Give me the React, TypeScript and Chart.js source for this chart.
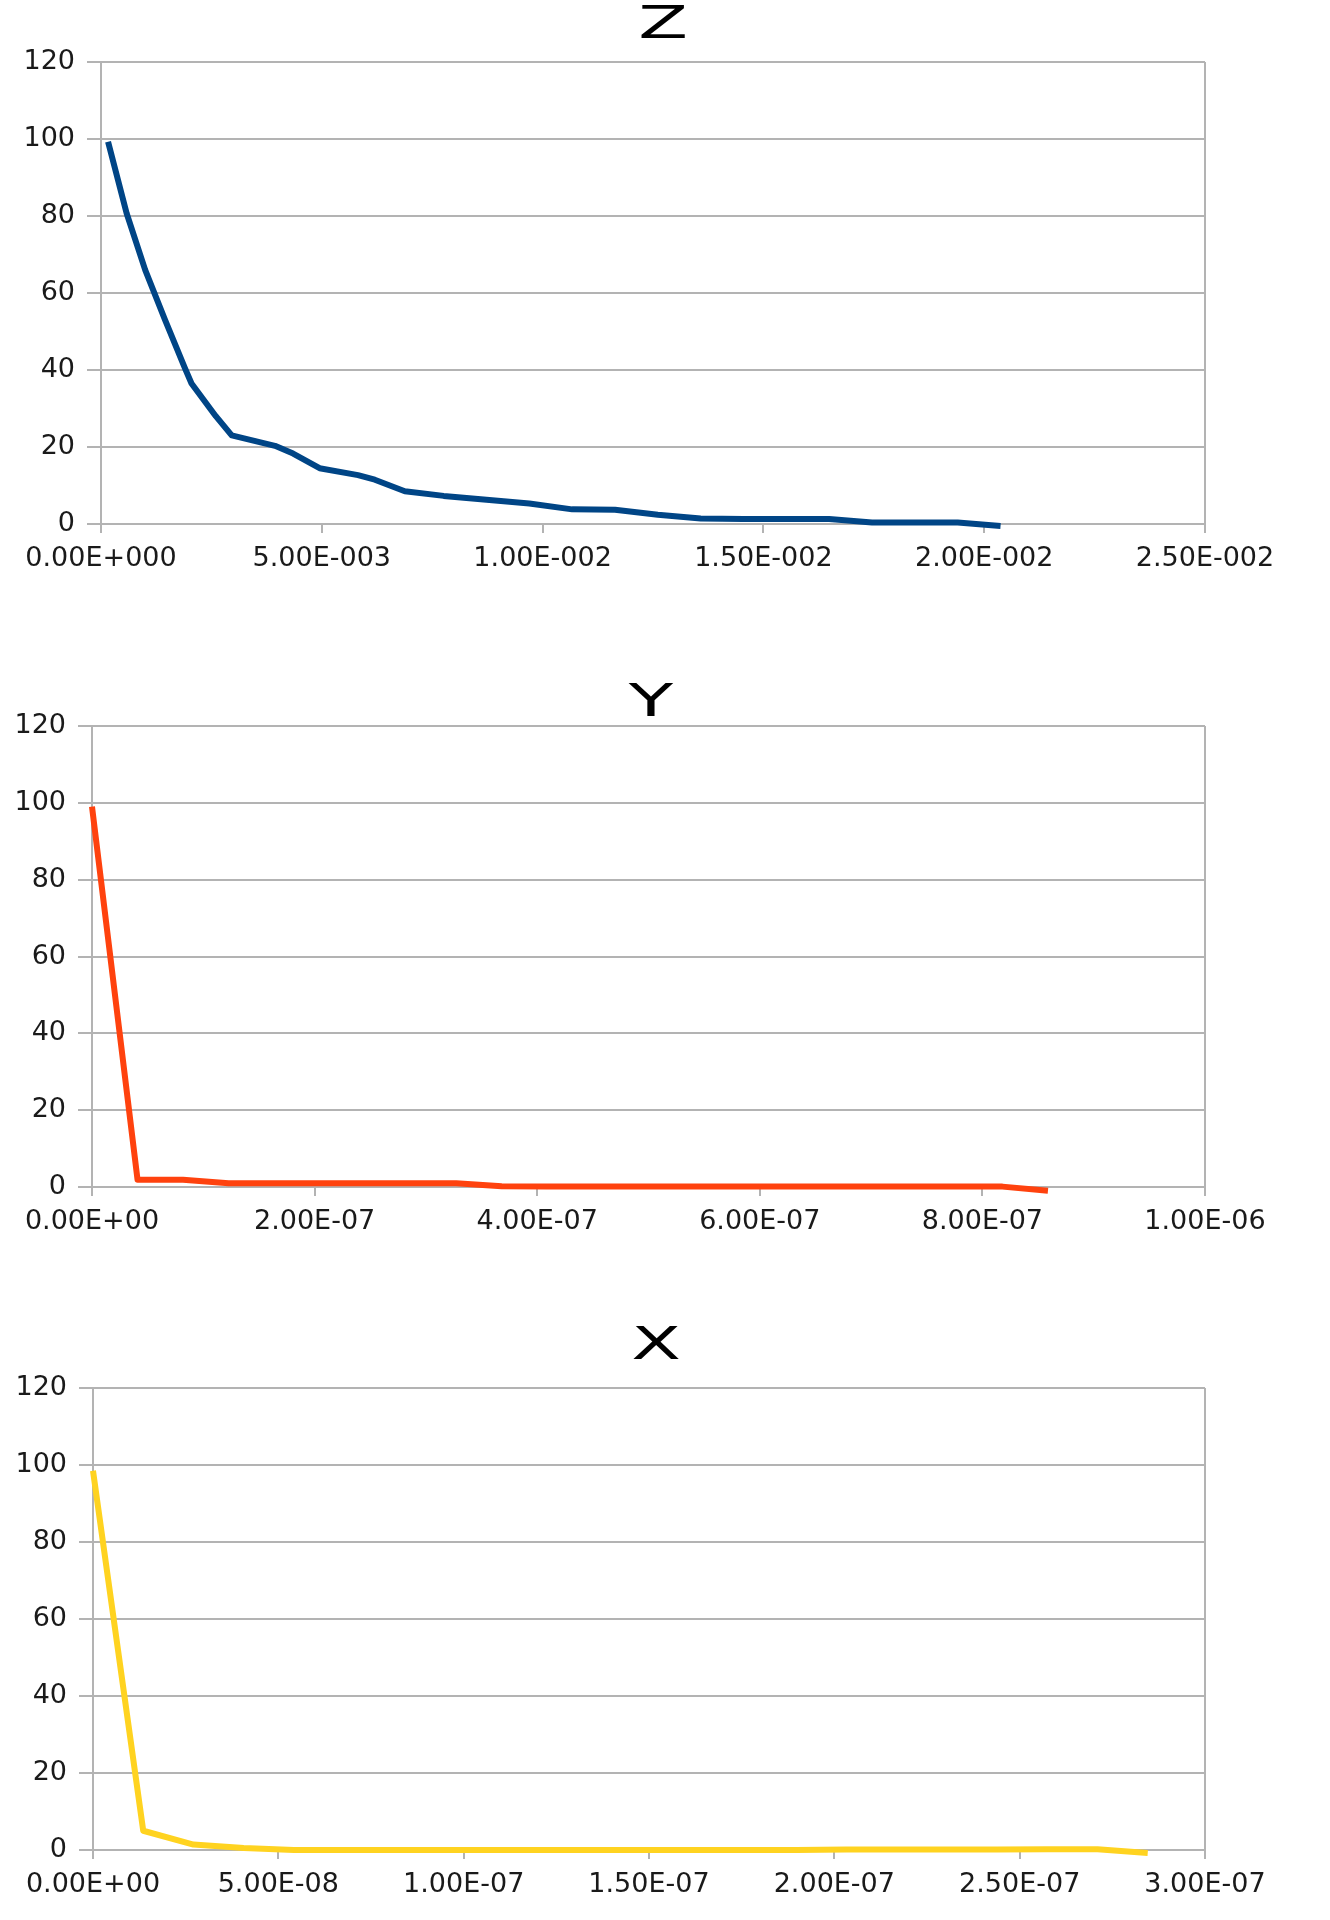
import { useEffect, useRef } from 'react';
import { Chart, registerables, type Plugin } from 'chart.js';

Chart.register(...registerables);

// Remaining percentage against distance, one profile per axis.
const zDistance = [0.00016, 0.00058, 0.001, 0.00145, 0.0019, 0.00205, 0.0026, 0.00296, 0.00394, 0.00435, 0.00495,
  0.00582, 0.0062, 0.00688, 0.00776, 0.00873, 0.0097, 0.01067, 0.01164, 0.01261, 0.01358, 0.01455, 0.01552,
  0.01649, 0.01746, 0.01843, 0.0194, 0.02037];
const zPercent = [99.3, 80.7, 66, 53, 40.5, 36.5, 28, 23, 20.3, 18.3, 14.5, 12.7, 11.5, 8.5, 7.3, 6.3, 5.3, 3.8,
  3.7, 2.4, 1.4, 1.3, 1.3, 1.3, 0.4, 0.4, 0.4, -0.5];

const yDistance = [0, 4.09e-8, 8.18e-8, 1.227e-7, 1.636e-7, 2.045e-7, 2.454e-7, 2.863e-7, 3.272e-7, 3.681e-7, 4.09e-7,
  4.499e-7, 4.908e-7, 5.317e-7, 5.726e-7, 6.135e-7, 6.544e-7, 6.953e-7, 7.362e-7, 7.771e-7, 8.18e-7, 8.589e-7];
const yPercent = [99, 1.9, 1.9, 1, 1, 1, 1, 1, 1, 0.2, 0.1, 0.1, 0.1, 0.1, 0.1, 0.1, 0.1, 0.1, 0.1, 0.1, 0.1, -1];

const xDistance = [0, 1.355e-8, 2.71e-8, 4.065e-8, 5.42e-8, 6.775e-8, 8.13e-8, 9.485e-8, 1.084e-7, 1.2195e-7, 1.355e-7,
  1.4905e-7, 1.626e-7, 1.7615e-7, 1.897e-7, 2.0325e-7, 2.168e-7, 2.3035e-7, 2.439e-7, 2.5745e-7, 2.71e-7, 2.8455e-7];
const xPercent = [98.5, 5, 1.4, 0.5, 0, 0, 0, 0, 0, 0, 0, 0, 0, 0, 0, 0.1, 0.1, 0.1, 0.1, 0.2, 0.2, -0.8];

const percentTicks = [0, 20, 40, 60, 80, 100, 120];

const zTicks = [0, 0.005, 0.01, 0.015, 0.02, 0.025];
const zTickLabels = ['0.00E+000', '5.00E-003', '1.00E-002', '1.50E-002', '2.00E-002', '2.50E-002'];
const yTicks = [0, 2e-7, 4e-7, 6e-7, 8e-7, 1e-6];
const yTickLabels = ['0.00E+00', '2.00E-07', '4.00E-07', '6.00E-07', '8.00E-07', '1.00E-06'];
const xTicks = [0, 5e-8, 1e-7, 1.5e-7, 2e-7, 2.5e-7, 3e-7];
const xTickLabels = ['0.00E+00', '5.00E-08', '1.00E-07', '1.50E-07', '2.00E-07', '2.50E-07', '3.00E-07'];

const GRID = '#b3b3b3';
const TEXT = '#1a1a1a';
const FONT = "'DejaVu Sans', sans-serif";
const PAGE_W = 1330;
const X_AXIS_H = 60;

// Big, horizontally stretched title like the office-suite export.
const wideTitle: Plugin<'line'> = {
  id: 'wideTitle',
  afterDraw(chart) {
    const cfg = (chart.config.options?.plugins as Record<string, { text?: string; x?: number; y?: number }> | undefined)?.wideTitle;
    if (!cfg?.text) return;
    const { ctx } = chart;
    ctx.save();
    ctx.translate(cfg.x || 0, cfg.y || 0);
    ctx.scale(1.65, 1);
    ctx.font = `44px ${FONT}`;
    ctx.fillStyle = '#000';
    ctx.textAlign = 'center';
    ctx.textBaseline = 'alphabetic';
    ctx.fillText(cfg.text, 0, 0);
    ctx.restore();
  },
};
Chart.register(wideTitle);

interface Box {
  top: number;
  height: number;
  plotTop: number;
  plotBottom: number;
  plotLeft: number;
  plotRight: number;
  titleX: number;
  titleBase: number;
}

interface ProfileProps {
  title: string;
  distance: number[];
  percent: number[];
  color: string;
  ticks: number[];
  tickLabels: string[];
  box: Box;
}

function ProfileChart({ title, distance, percent, color, ticks, tickLabels, box }: ProfileProps) {
  const canvasRef = useRef<HTMLCanvasElement>(null);

  useEffect(() => {
    const canvas = canvasRef.current;
    if (!canvas) return;
    const last = ticks.length - 1;

    const chart = new Chart(canvas, {
      type: 'line',
      data: {
        datasets: [{
          data: distance.map((d, i) => ({ x: d, y: percent[i] })),
          borderColor: color,
          borderWidth: 6,
          pointRadius: 0,
          tension: 0,
          borderJoinStyle: 'round',
          fill: false,
          clip: false,
        }],
      },
      options: {
        animation: false,
        responsive: true,
        maintainAspectRatio: false,
        events: [],
        layout: {
          padding: {
            left: 0,
            top: box.plotTop - box.top,
            right: PAGE_W - box.plotRight,
            bottom: box.top + box.height - box.plotBottom - X_AXIS_H,
          },
        },
        plugins: {
          legend: { display: false },
          tooltip: { enabled: false },
          wideTitle: { text: title, x: box.titleX, y: box.titleBase - box.top },
        } as Chart<'line'>['options']['plugins'],
        scales: {
          x: {
            type: 'linear',
            min: ticks[0],
            max: ticks[last],
            afterBuildTicks: (s) => { s.ticks = ticks.map((v) => ({ value: v })); },
            afterFit: (s) => { s.height = X_AXIS_H; s.paddingLeft = 0; s.paddingRight = 0; },
            grid: {
              color: (c) => (c.index === last ? GRID : 'transparent'),
              tickColor: GRID,
              lineWidth: 2,
              tickLength: 9,
            },
            border: { display: true, color: GRID, width: 2 },
            ticks: {
              callback: (_v, i) => tickLabels[i],
              autoSkip: false,
              maxRotation: 0,
              padding: 10,
              color: TEXT,
              font: { family: FONT, size: 27 },
            },
          },
          y: {
            min: 0,
            max: 120,
            afterBuildTicks: (s) => { s.ticks = percentTicks.map((v) => ({ value: v })); },
            afterFit: (s) => { s.width = box.plotLeft; s.paddingTop = 0; s.paddingBottom = 0; },
            grid: { color: GRID, lineWidth: 2, tickLength: 14 },
            border: { display: true, color: GRID, width: 2 },
            ticks: {
              padding: 12,
              color: TEXT,
              font: { family: FONT, size: 27 },
            },
          },
        },
      },
    });

    return () => chart.destroy();
    // eslint-disable-next-line react-hooks/exhaustive-deps
  }, []);

  return (
    <div style={{ position: 'absolute', left: 0, top: box.top, width: PAGE_W, height: box.height }}>
      <canvas ref={canvasRef} />
    </div>
  );
}

export default function App() {
  return (
    <div style={{ position: 'absolute', left: 0, top: 0, width: PAGE_W, height: 1920, background: '#fff' }}>
      <ProfileChart
        title="Z"
        distance={zDistance}
        percent={zPercent}
        color="#004586"
        ticks={zTicks}
        tickLabels={zTickLabels}
        box={{ top: 0, height: 620, plotTop: 62, plotBottom: 524, plotLeft: 101, plotRight: 1205, titleX: 663, titleBase: 38 }}
      />
      <ProfileChart
        title="Y"
        distance={yDistance}
        percent={yPercent}
        color="#ff420e"
        ticks={yTicks}
        tickLabels={yTickLabels}
        box={{ top: 640, height: 640, plotTop: 726, plotBottom: 1187, plotLeft: 92, plotRight: 1205, titleX: 651, titleBase: 716 }}
      />
      <ProfileChart
        title="X"
        distance={xDistance}
        percent={xPercent}
        color="#ffd320"
        ticks={xTicks}
        tickLabels={xTickLabels}
        box={{ top: 1290, height: 630, plotTop: 1388, plotBottom: 1850, plotLeft: 93, plotRight: 1205, titleX: 656, titleBase: 1359 }}
      />
    </div>
  );
}
